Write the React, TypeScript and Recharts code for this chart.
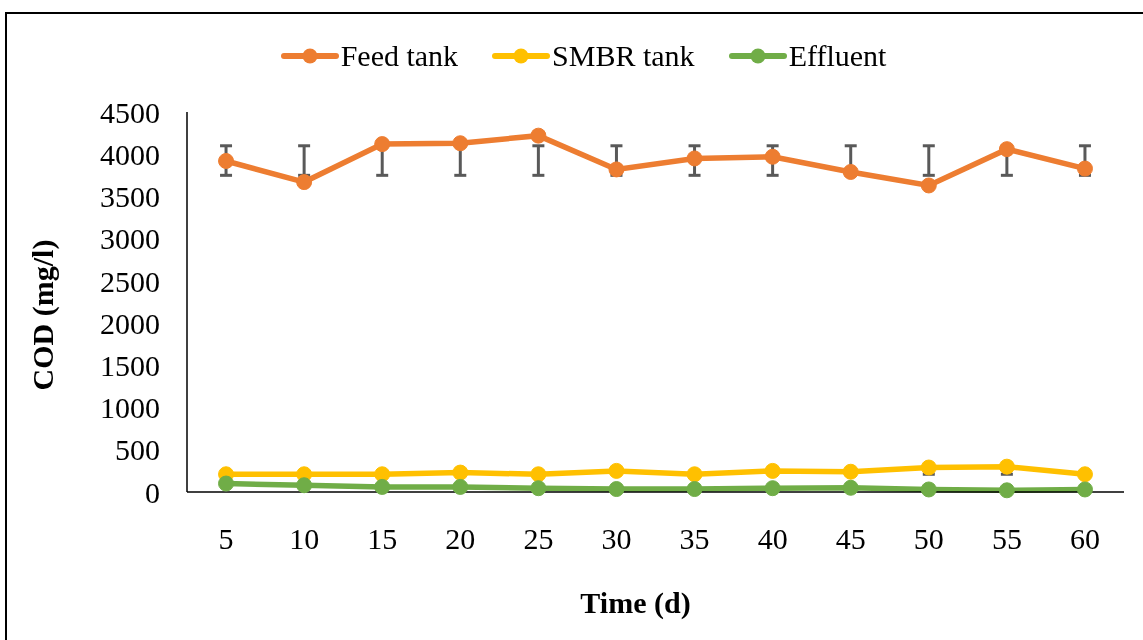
import React from 'react';
import { LineChart, Line, XAxis, YAxis, Legend, ErrorBar, Label } from 'recharts';

// sampling days
const days = [5, 10, 15, 20, 25, 30, 35, 40, 45, 50, 55, 60];

// COD values (mg/l)
const feedTank = [3920, 3670, 4120, 4130, 4220, 3820, 3950, 3970, 3790, 3630, 4060, 3830];
const smbrTank = [210, 210, 210, 230, 210, 250, 210, 250, 240, 290, 300, 210];
const effluent = [100, 80, 60, 60, 45, 35, 35, 45, 50, 30, 20, 30];

// error bar ends
const feedLow = [3750, 3750, 3750, 3750, 3750, 3750, 3750, 3750, 3750, 3750, 3750, 3750];
const feedHigh = [4100, 4100, 4100, 4100, 4100, 4100, 4100, 4100, 4100, 4100, 4100, 4100];
const smbrLow = [null, null, null, null, null, null, null, null, null, 210, 210, null];
const smbrHigh = [null, null, null, null, null, null, null, null, null, 290, 300, null];

const yTicks = [0, 500, 1000, 1500, 2000, 2500, 3000, 3500, 4000, 4500];

const FONT = '"Liberation Serif", "Times New Roman", serif';
const COLORS = { feed: '#ED7D31', smbr: '#FFC000', eff: '#70AD47' };

const data = days.map((d, i) => ({
  day: d,
  feed: feedTank[i],
  smbr: smbrTank[i],
  eff: effluent[i],
  feedErr: [feedTank[i] - feedLow[i], feedHigh[i] - feedTank[i]],
  smbrErr: smbrLow[i] == null ? undefined : [smbrTank[i] - smbrLow[i]!, smbrHigh[i]! - smbrTank[i]],
}));

const legendItems = [
  { name: 'Feed tank', color: COLORS.feed },
  { name: 'SMBR tank', color: COLORS.smbr },
  { name: 'Effluent', color: COLORS.eff },
];

const CustomLegend = () => (
  <div style={{ display: 'flex', justifyContent: 'center', alignItems: 'center', gap: 34, fontFamily: FONT, fontSize: 30 }}>
    {legendItems.map((it) => (
      <div key={it.name} style={{ display: 'flex', alignItems: 'center' }}>
        <svg width={58} height={20}>
          <line x1={3} y1={10} x2={55} y2={10} stroke={it.color} strokeWidth={6} strokeLinecap="round" />
          <circle cx={29} cy={10} r={7.5} fill={it.color} />
        </svg>
        <span style={{ marginLeft: 2, color: '#000' }}>{it.name}</span>
      </div>
    ))}
  </div>
);

export default function App() {
  return (
    <div>
      <div
        style={{
          position: 'fixed', left: 5, top: 12, width: 1160, height: 660,
          border: '2px solid #000', boxSizing: 'border-box',
        }}
      />
      <div style={{ position: 'fixed', left: 0, top: 0 }}>
        <LineChart
          width={1143}
          height={640}
          data={data}
          margin={{ top: 112, right: 19, left: 107, bottom: 0 }}
          style={{ fontFamily: FONT }}
        >
          <XAxis
            dataKey="day"
            type="number"
            domain={[2.5, 62.5]}
            ticks={days}
            tickLine={false}
            tickMargin={30}
            height={148}
            stroke="#000"
            strokeWidth={1.5}
            tick={{ fill: '#000', fontSize: 30, fontFamily: FONT }}
          >
            <Label
              content={(props: any) => {
                const vb = props.viewBox;
                return (
                  <text x={vb.x + vb.width / 2 - 20} y={613} textAnchor="middle" fontFamily={FONT} fontSize={30} fontWeight="bold" fill="#000">
                    Time (d)
                  </text>
                );
              }}
            />
          </XAxis>
          <YAxis
            domain={[0, 4500]}
            ticks={yTicks}
            width={80}
            tickLine={false}
            tickMargin={21}
            stroke="#000"
            strokeWidth={1.5}
            tick={{ fill: '#000', fontSize: 30, fontFamily: FONT }}
          >
            <Label
              content={(props: any) => {
                const vb = props.viewBox;
                const cy = vb.y + vb.height / 2 + 13;
                return (
                  <text x={53} y={cy} transform={`rotate(-90, 53, ${cy})`} textAnchor="middle" fontFamily={FONT} fontSize={30} fontWeight="bold" fill="#000">
                    COD (mg/l)
                  </text>
                );
              }}
            />
          </YAxis>
          <Legend
            layout="horizontal"
            verticalAlign="middle"
            align="center"
            wrapperStyle={{ top: 39, left: 12, width: 1143 }}
            content={<CustomLegend />}
          />
          <Line
            dataKey="feed"
            name="Feed tank"
            stroke={COLORS.feed}
            strokeWidth={5.5}
            dot={{ r: 7.5, fill: COLORS.feed, stroke: COLORS.feed, strokeWidth: 1 }}
            activeDot={false}
            isAnimationActive={false}
          >
            <ErrorBar dataKey="feedErr" direction="y" width={6} stroke="#595959" strokeWidth={3} />
          </Line>
          <Line
            dataKey="smbr"
            name="SMBR tank"
            stroke={COLORS.smbr}
            strokeWidth={5.5}
            dot={{ r: 7.5, fill: COLORS.smbr, stroke: COLORS.smbr, strokeWidth: 1 }}
            activeDot={false}
            isAnimationActive={false}
          >
            <ErrorBar dataKey="smbrErr" direction="y" width={6} stroke="#595959" strokeWidth={3} />
          </Line>
          <Line
            dataKey="eff"
            name="Effluent"
            stroke={COLORS.eff}
            strokeWidth={5.5}
            dot={{ r: 7.5, fill: COLORS.eff, stroke: COLORS.eff, strokeWidth: 1 }}
            activeDot={false}
            isAnimationActive={false}
          />
        </LineChart>
      </div>
    </div>
  );
}
